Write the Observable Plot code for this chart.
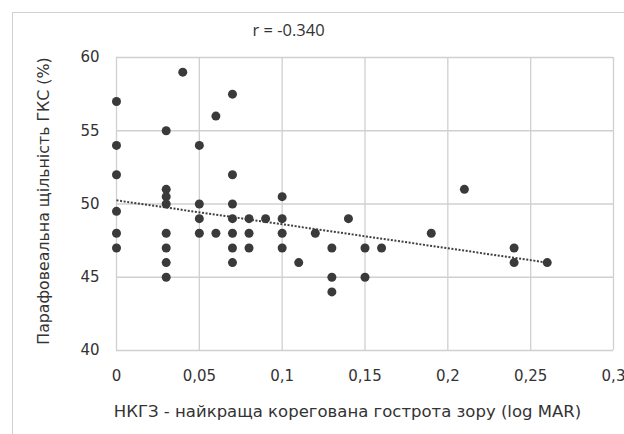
<!DOCTYPE html>
<html>
<head>
<meta charset="utf-8">
<script src="https://cdn.jsdelivr.net/npm/d3@7"></script>
<script src="https://cdn.jsdelivr.net/npm/@observablehq/plot@0.6"></script>
<style>
  html, body { margin: 0; padding: 0; background: #fff; }
  #wrap { position: relative; width: 624px; height: 434px; overflow: hidden; }
  #frame { position: absolute; left: 12px; top: 12px; width: 700px; height: 500px;
           border-left: 1.5px solid #d0d0d0; border-top: 1.5px solid #d0d0d0; pointer-events: none; }
  #wrap svg { position: absolute; left: 0; top: 0; }
</style>
</head>
<body>
<div id="wrap"><div id="frame"></div></div>
<script>
const title = "r = -0.340";
const xLabel = "НКГЗ - найкраща корегована гострота зору (log MAR)";
const yLabel = "Парафовеальна щільність ГКС (%)";

// BCVA (logMAR) of each point
const bcva = [
  0, 0, 0, 0, 0, 0,
  0.03, 0.03, 0.03, 0.03, 0.03, 0.03, 0.03, 0.03,
  0.04,
  0.05, 0.05, 0.05, 0.05,
  0.06, 0.06,
  0.07, 0.07, 0.07, 0.07, 0.07, 0.07, 0.07,
  0.08, 0.08, 0.08,
  0.09,
  0.10, 0.10, 0.10, 0.10,
  0.11,
  0.12,
  0.13, 0.13, 0.13,
  0.14,
  0.15, 0.15,
  0.16,
  0.19,
  0.21,
  0.24, 0.24,
  0.26
];
// parafoveal GCC density (%) of each point
const density = [
  57, 54, 52, 49.5, 48, 47,
  55, 51, 50.5, 50, 48, 47, 46, 45,
  59,
  54, 50, 49, 48,
  56, 48,
  57.5, 52, 50, 49, 48, 47, 46,
  49, 48, 47,
  49,
  50.5, 49, 48, 47,
  46,
  48,
  47, 45, 44,
  49,
  47, 45,
  47,
  48,
  51,
  47, 46,
  46
];
// linear trendline end points
const trendX = [0, 0.26];
const trendY = [50.25, 46.0];

const xTicks = [0, 0.05, 0.1, 0.15, 0.2, 0.25, 0.3];
const yTicks = [40, 45, 50, 55, 60];

const points = bcva.map((x, i) => ({x, y: density[i]}));
const trend = trendX.map((x, i) => ({x, y: trendY[i]}));

const fmt = d => String(d).replace(".", ",");

const chart = Plot.plot({
  width: 624,
  height: 434,
  marginLeft: 116,
  marginRight: 11,
  marginTop: 57,
  marginBottom: 84,
  style: { fontFamily: "DejaVu Sans", fontSize: "15px", color: "#404040", background: "transparent" },
  x: { domain: [0, 0.3] },
  y: { domain: [40, 60] },
  marks: [
    Plot.gridX(xTicks, { stroke: "#d0d0d0", strokeOpacity: 1, strokeWidth: 1.3 }),
    Plot.gridY(yTicks, { stroke: "#d0d0d0", strokeOpacity: 1, strokeWidth: 1.3 }),
    Plot.axisX({ ticks: xTicks, tickFormat: fmt, tickSize: 0, tickPadding: 20, label: null,
                 fontSize: 15, fill: "#333" }),
    Plot.axisY({ ticks: yTicks, tickSize: 0, tickPadding: 17, label: null,
                 fontSize: 15, fill: "#333" }),
    Plot.line(trend, { x: "x", y: "y", stroke: "#404040", strokeWidth: 2,
                       strokeDasharray: "2 1.6", strokeLinecap: "butt" }),
    Plot.dot(points, { x: "x", y: "y", r: 4.5, fill: "#3a3a3a", stroke: "none" }),
    Plot.text([title], { frameAnchor: "top-left", dx: 172, dy: -22, lineAnchor: "bottom",
                         textAnchor: "middle", fontFamily: "Open Sans", fontSize: 16.5, fill: "#333" }),
    Plot.text([xLabel], { frameAnchor: "bottom-left", dx: 231, dy: 61, lineAnchor: "middle",
                          textAnchor: "middle", fontSize: 16.5, fill: "#333" }),
    Plot.text([yLabel], { frameAnchor: "left", dx: -73, dy: -3, rotate: -90, lineAnchor: "middle",
                          textAnchor: "middle", fontSize: 15.8, fill: "#333" })
  ]
});
document.getElementById("wrap").appendChild(chart);
</script>
</body>
</html>
